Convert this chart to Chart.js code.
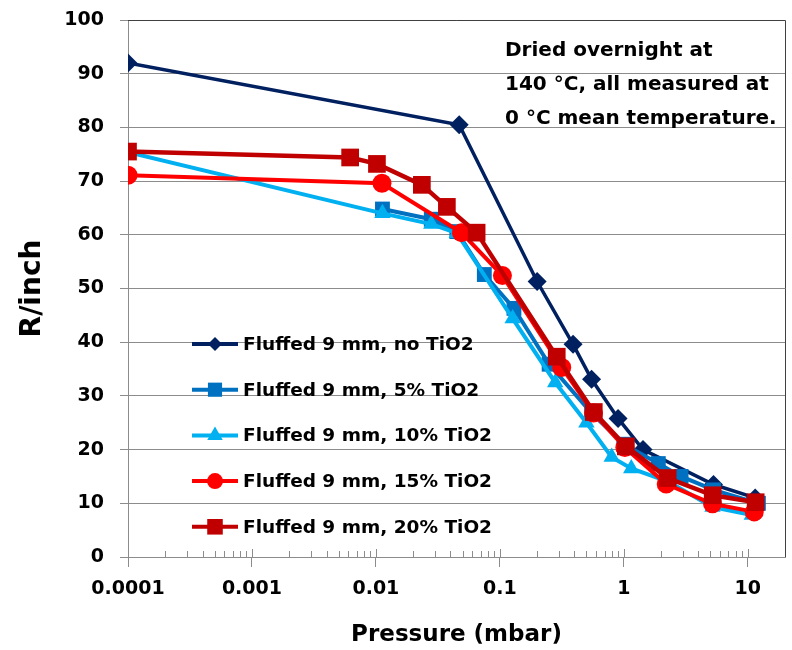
<!DOCTYPE html>
<html>
<head>
<meta charset="utf-8">
<script src="https://cdn.jsdelivr.net/npm/chart.js@4.4.1/dist/chart.umd.min.js"></script>
<style>
  html, body { margin: 0; padding: 0; background: #fff; }
  #wrap { width: 792px; height: 650px; }
</style>
</head>
<body>
<div id="wrap"><canvas id="chart" width="792" height="650"></canvas></div>
<script>
// Values: pressure (mbar) vs R/inch
const noTiO2P = [0.0001, 0.047, 0.2, 0.39, 0.55, 0.9, 1.43, 5.3, 11.5];
const noTiO2R = [92.0, 80.5, 51.3, 39.6, 33.1, 25.8, 20.0, 13.5, 11.0];

const tio5P  = [0.0113, 0.028, 0.045, 0.075, 0.13, 0.25, 0.55, 1.0, 1.9, 2.9, 5.3, 12.2];
const tio5R  = [64.8, 62.9, 60.6, 52.6, 46.3, 35.9, 26.8, 21.0, 17.4, 15.0, 12.5, 10.0];

const tio10P = [0.0001, 0.0113, 0.028, 0.045, 0.127, 0.28, 0.5, 0.8, 1.15, 2.3, 5.2, 10.8];
const tio10R = [75.4, 64.0, 62.0, 60.3, 44.4, 32.5, 25.0, 18.6, 16.5, 14.0, 9.3, 7.8];

const tio15P = [0.0001, 0.0112, 0.049, 0.105, 0.316, 0.57, 1.02, 2.2, 5.2, 11.3];
const tio15R = [71.1, 69.6, 60.4, 52.4, 35.3, 26.8, 20.4, 13.6, 9.9, 8.4];

const tio20P = [0.0001, 0.0062, 0.0102, 0.0235, 0.0374, 0.065, 0.288, 0.573, 1.04, 2.26, 5.22, 11.6];
const tio20R = [75.5, 74.4, 73.2, 69.3, 65.2, 60.4, 37.3, 27.0, 20.6, 14.7, 11.5, 10.2];

const seriesLabels = [
  'Fluffed 9 mm, no TiO2',
  'Fluffed 9 mm, 5% TiO2',
  'Fluffed 9 mm, 10% TiO2',
  'Fluffed 9 mm, 15% TiO2',
  'Fluffed 9 mm, 20% TiO2',
];
const seriesP = [noTiO2P, tio5P, tio10P, tio15P, tio20P];
const seriesR = [noTiO2R, tio5R, tio10R, tio15R, tio20R];

const xTickValues = [0.0001, 0.001, 0.01, 0.1, 1, 10];
const xTickLabels = ['0.0001', '0.001', '0.01', '0.1', '1', '10'];

const noteLines = ['Dried overnight at', '140 \u00B0C, all measured at', '0 \u00B0C mean temperature.'];

// look
const COLORS  = ['#002060', '#0070C0', '#00B0F0', '#FF0000', '#C00000'];
const MARKERS = ['rectRot', 'rect', 'triangle', 'circle', 'rect'];
const RADII   = [9.5, 10.5, 9.5, 9.5, 12.5];
const LEGEND_RADII = [7, 10, 9, 8, 11];
const WIDTHS  = [3.5, 4, 4, 4, 4.5];
const GRID    = '#8c8c8c';
const FONT    = "'DejaVu Sans', sans-serif";

const datasets = seriesLabels.map((label, i) => ({
  label,
  data: seriesP[i].map((p, k) => ({ x: p, y: seriesR[i][k] })),
  borderColor: COLORS[i],
  backgroundColor: COLORS[i],
  borderWidth: WIDTHS[i],
  pointStyle: MARKERS[i],
  pointRadius: RADII[i],
  pointBorderWidth: 0,
  tension: 0,
  order: seriesLabels.length - i, // last series drawn on top
}));

// scales ask for room for their edge labels; the plot box is fixed here instead
const noEdgePadding = (scale) => {
  scale.paddingTop = 0;
  scale.paddingBottom = 0;
  scale.paddingLeft = 0;
  scale.paddingRight = 0;
};

// minor log ticks on the x axis, plus the plot frame
const frameTicks = {
  id: 'frameTicks',
  afterDatasetsDraw(chart) {
    const { ctx, chartArea: a, scales: { x } } = chart;
    ctx.save();
    ctx.strokeStyle = GRID;
    ctx.lineWidth = 1;
    ctx.beginPath();
    for (let d = -4; d <= 1; d++) {
      for (let m = 1; m <= 9; m++) {
        const v = m * Math.pow(10, d);
        if (v < x.min || v > x.max) continue;
        const px = Math.round(x.getPixelForValue(v)) + 0.5;
        const len = m === 1 ? 8 : 6;
        ctx.moveTo(px, a.bottom);
        ctx.lineTo(px, a.bottom - len);
      }
    }
    ctx.stroke();
    ctx.strokeStyle = '#404040';
    ctx.beginPath();
    ctx.moveTo(a.left, Math.round(a.top) + 0.5);
    ctx.lineTo(Math.round(a.right) + 0.5, Math.round(a.top) + 0.5);
    ctx.lineTo(Math.round(a.right) + 0.5, a.bottom);
    ctx.stroke();
    ctx.restore();
  },
};

// legend inside the plot: line sample with marker, then label
const insideLegend = {
  id: 'insideLegend',
  afterDraw(chart, args, opts) {
    const { ctx } = chart;
    ctx.save();
    ctx.font = opts.font;
    ctx.textBaseline = 'middle';
    ctx.fillStyle = '#000';
    chart.data.datasets.forEach((ds, i) => {
      const y = opts.y0 + i * opts.step;
      ctx.strokeStyle = ds.borderColor;
      ctx.lineWidth = 4;
      ctx.beginPath();
      ctx.moveTo(opts.x0, y);
      ctx.lineTo(opts.x1, y);
      ctx.stroke();
      ctx.fillStyle = ds.backgroundColor;
      Chart.helpers.drawPoint(ctx, {
        pointStyle: ds.pointStyle, radius: LEGEND_RADII[i], rotation: 0, borderWidth: 0,
      }, (opts.x0 + opts.x1) / 2, y);
      ctx.fillStyle = '#000';
      ctx.fillText(ds.label, opts.textX, y + 1);
    });
    ctx.restore();
  },
};

const noteText = {
  id: 'noteText',
  afterDraw(chart, args, opts) {
    const { ctx } = chart;
    ctx.save();
    ctx.font = opts.font;
    ctx.fillStyle = '#000';
    ctx.textBaseline = 'middle';
    opts.lines.forEach((t, i) => ctx.fillText(t, opts.x, opts.y0 + i * opts.step));
    ctx.restore();
  },
};

new Chart(document.getElementById('chart'), {
  type: 'line',
  data: { datasets },
  plugins: [frameTicks, insideLegend, noteText],
  options: {
    responsive: false,
    animation: false,
    events: [],
    layout: { autoPadding: false, padding: { top: 20, right: 7, left: 0, bottom: 0 } },
    plugins: {
      legend: { display: false },
      tooltip: { enabled: false },
      insideLegend: {
        x0: 192, x1: 238, textX: 243, y0: 344, step: 45.7,
        font: `bold 18.5px ${FONT}`,
      },
      noteText: {
        x: 505, y0: 51, step: 34, lines: noteLines,
        font: `bold 20px ${FONT}`,
      },
    },
    scales: {
      x: {
        type: 'logarithmic',
        min: 0.0001,
        max: 20,
        afterBuildTicks: (scale) => {
          scale.ticks = xTickValues.map((v) => ({ value: v, major: true }));
        },
        afterFit: (scale) => { scale.height = 93; noEdgePadding(scale); },
        border: { color: GRID, width: 1 },
        grid: { drawOnChartArea: false, tickLength: 10, color: GRID },
        ticks: {
          autoSkip: false,
          maxRotation: 0,
          padding: 11,
          color: '#000',
          font: { family: FONT, size: 19, weight: 'bold' },
          callback: (v) => {
            const k = xTickValues.indexOf(v);
            return k >= 0 ? xTickLabels[k] : '';
          },
        },
        title: {
          display: true,
          text: 'Pressure (mbar)',
          color: '#000',
          font: { family: FONT, size: 23, weight: 'bold' },
          padding: { top: 0, bottom: 1 },
        },
      },
      y: {
        min: 0,
        max: 100,
        afterFit: (scale) => { scale.width = 128; noEdgePadding(scale); },
        border: { color: GRID, width: 1 },
        grid: { color: GRID, tickLength: 8 },
        ticks: {
          stepSize: 10,
          padding: 16,
          color: '#000',
          font: { family: FONT, size: 19, weight: 'bold' },
        },
        title: {
          display: true,
          text: 'R/inch',
          color: '#000',
          font: { family: FONT, size: 28, weight: 'bold' },
          padding: { top: 16, bottom: 0 },
        },
      },
    },
  },
});
</script>
</body>
</html>
